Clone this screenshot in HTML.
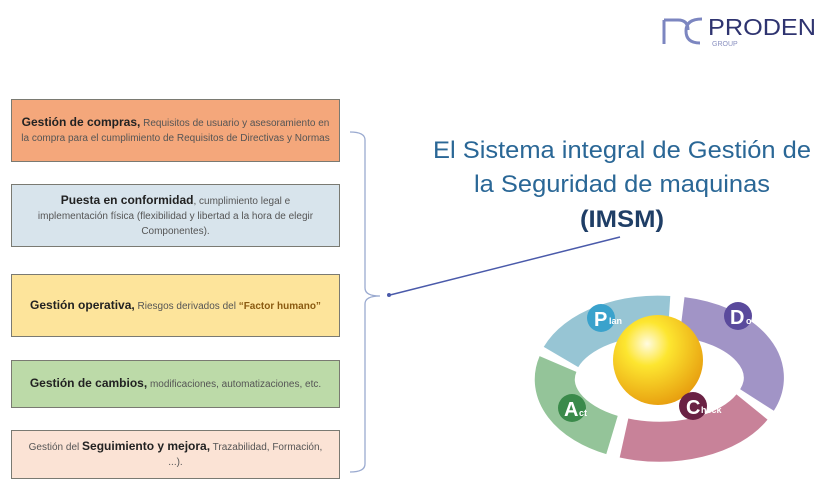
<!DOCTYPE html>
<html><head><meta charset="utf-8"><style>
body{margin:0;width:833px;height:482px;background:#fff;position:relative;overflow:hidden;font-family:"Liberation Sans",sans-serif}
.b{position:absolute;left:11px;width:329px;border:1.5px solid #7a7a72;box-sizing:border-box;display:flex;align-items:center;justify-content:center;text-align:center;font-size:10px;line-height:15px;color:#555;padding:0 3px}
.b b{font-size:12px;color:#222}
svg{position:absolute;left:0;top:0}
</style></head><body>
<div class="b" style="top:99px;height:63px;background:#f4a77b;padding:0 6px"><div><b>Gestión de compras,</b> Requisitos de usuario y asesoramiento en la compra para el cumplimiento de Requisitos de Directivas y Normas</div></div>
<div class="b" style="top:184px;height:63px;background:#d8e4ec;padding:0 10px"><div><b>Puesta en conformidad</b>, cumplimiento legal e<br>implementación física (flexibilidad y libertad a la hora de elegir Componentes).</div></div>
<div class="b" style="top:274px;height:63px;background:#fde49b"><div><b>Gestión operativa,</b> Riesgos derivados del <b style="font-size:10px;color:#8a5a10">“Factor humano”</b></div></div>
<div class="b" style="top:360px;height:48px;background:#bcdaa8"><div><b>Gestión de cambios,</b> modificaciones, automatizaciones, etc.</div></div>
<div class="b" style="top:430px;height:49px;background:#fbe3d5;padding:0 12px"><div>Gestión del <b>Seguimiento y mejora,</b> Trazabilidad, Formación, ...).</div></div>
<svg width="833" height="482">
<defs><radialGradient id="g" cx="0.38" cy="0.32" r="0.7"><stop offset="0" stop-color="#fffbe0"/><stop offset="0.35" stop-color="#fde630"/><stop offset="1" stop-color="#e8a010"/></radialGradient></defs>
<path d="M350 132 Q365 132 365 140 L365 288 Q365 296 380 296 Q365 296 365 304 L365 464 Q365 472 350 472" fill="none" stroke="#9aaad0" stroke-width="1.3"/>
<line x1="620" y1="237" x2="390" y2="295" stroke="#4a5aaa" stroke-width="1.5"/>
<circle cx="389" cy="295" r="2" fill="#4a5aaa"/>
<g font-family="Liberation Sans,sans-serif" text-anchor="middle">
<text x="622" y="158" font-size="24" fill="#2a6796" textLength="378" lengthAdjust="spacingAndGlyphs">El Sistema integral de Gestión de</text>
<text x="622" y="192" font-size="24" fill="#2a6796" textLength="296" lengthAdjust="spacingAndGlyphs">la Seguridad de maquinas</text>
<text x="622" y="227" font-size="24" font-weight="bold" fill="#1f3e66" textLength="84" lengthAdjust="spacingAndGlyphs">(IMSM)</text>
</g>
<path d="M664 20 L664 44 M664 20 L678 20 Q688 20 688 30 M702 19 Q686 19 686 31 Q686 43 700 43" fill="none" stroke="#7c86c0" stroke-width="3"/>
<text x="708" y="35" font-size="23" fill="#2f3470" textLength="108" lengthAdjust="spacingAndGlyphs" font-family="Liberation Sans,sans-serif">PRODEN</text>
<text x="712" y="46" font-size="7" fill="#8a90c0" font-family="Liberation Sans,sans-serif">GROUP</text>
<g fill="none" stroke-width="40" opacity="0.95">
<path d="M561 357 A103 62 0 0 1 669 316" stroke="#92c2d2"/>
<path d="M682 317 A103 62 0 0 1 757 400" stroke="#9d8fc4"/>
<path d="M752 407 A103 62 0 0 1 624 438" stroke="#c67c94"/>
<path d="M612 435 A103 62 0 0 1 558 364" stroke="#8fc194"/>
</g>
<circle cx="658" cy="360" r="45" fill="url(#g)"/>
<g font-family="Liberation Sans,sans-serif" font-weight="bold" fill="#fff">
<circle cx="601" cy="318" r="14" fill="#3aa2cc"/><text x="594" y="326" font-size="20">P</text><text x="609" y="324" font-size="9">lan</text>
<circle cx="738" cy="316" r="14" fill="#5a4a9c"/><text x="730" y="324" font-size="20">D</text><text x="746" y="324" font-size="9">o</text>
<circle cx="572" cy="408" r="14" fill="#3a8a4a"/><text x="564" y="416" font-size="20">A</text><text x="579" y="416" font-size="9">ct</text>
<circle cx="693" cy="406" r="14" fill="#6a2244"/><text x="686" y="414" font-size="20">C</text><text x="701" y="413" font-size="9">heck</text>
</g>
</svg>
</body></html>
